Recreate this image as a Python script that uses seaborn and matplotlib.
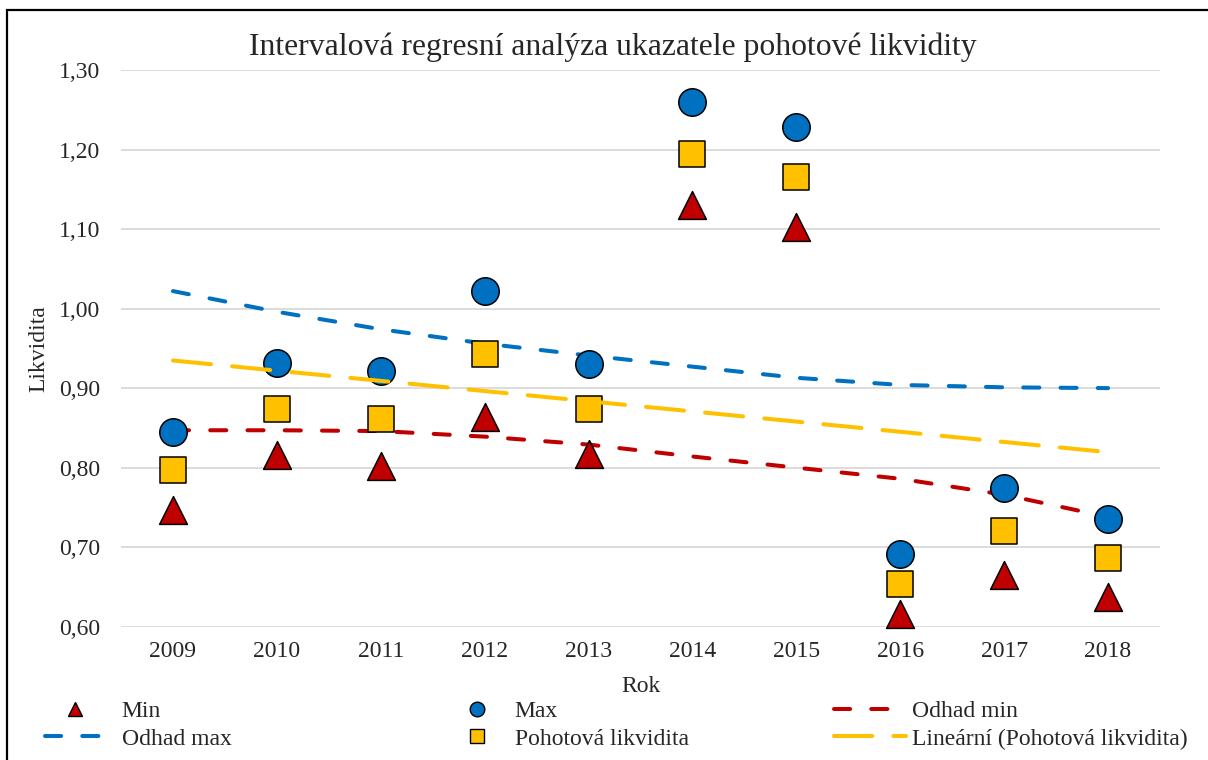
import numpy as np
import pandas as pd
import matplotlib
matplotlib.use("Agg")
import matplotlib.pyplot as plt
from matplotlib.lines import Line2D
from matplotlib.patches import Rectangle
import seaborn as sns

# ---- data ----
years = [2009, 2010, 2011, 2012, 2013, 2014, 2015, 2016, 2017, 2018]
year_labels = ["2009", "2010", "2011", "2012", "2013", "2014", "2015", "2016", "2017", "2018"]
min_vals = [0.747, 0.816, 0.802, 0.864, 0.817, 1.130, 1.103, 0.616, 0.665, 0.637]
max_vals = [0.845, 0.931, 0.921, 1.022, 0.930, 1.260, 1.228, 0.692, 0.774, 0.735]
pohot_vals = [0.797, 0.874, 0.861, 0.943, 0.874, 1.195, 1.166, 0.654, 0.720, 0.687]
odhad_min = [0.847, 0.847, 0.846, 0.839, 0.829, 0.814, 0.800, 0.786, 0.766, 0.738]
odhad_max = [1.022, 0.996, 0.974, 0.956, 0.941, 0.927, 0.913, 0.904, 0.901, 0.900]
y_ticks = [0.60, 0.70, 0.80, 0.90, 1.00, 1.10, 1.20, 1.30]
y_tick_labels = ["0,60", "0,70", "0,80", "0,90", "1,00", "1,10", "1,20", "1,30"]

title = "Intervalová regresní analýza ukazatele pohotové likvidity"
x_label = "Rok"
y_label = "Likvidita"
legend_labels = ["Min", "Max", "Odhad min", "Odhad max", "Pohotová likvidita",
                 "Lineární (Pohotová likvidita)"]

RED = "#C00000"
BLUE = "#0070C0"
YELLOW = "#FFC000"
GRID = "#D9D9D9"

sns.set_style("white")
plt.rcParams["font.family"] = ["Liberation Serif", "DejaVu Serif"]

W, H = 1208, 760
fig = plt.figure(figsize=(W / 100, H / 100), dpi=100)
ax = fig.add_axes([121 / W, 1 - 626.7 / H, (1160 - 121) / W, (626.7 - 70) / H])

LW = 2.9
short_dash = (0, (4.0, 5.25))
long_dash = (0, (9.5, 5.25))

df = pd.DataFrame({"year": years, "min": min_vals, "max": max_vals,
                   "pohot": pohot_vals, "omin": odhad_min, "omax": odhad_max})

sns.lineplot(data=df, x="year", y="omin", color=RED, lw=LW, linestyle=short_dash,
             dash_capstyle="round", ax=ax, zorder=2)
sns.lineplot(data=df, x="year", y="omax", color=BLUE, lw=LW, linestyle=short_dash,
             dash_capstyle="round", ax=ax, zorder=2)

S = 390
sns.scatterplot(data=df, x="year", y="min", marker="^", s=S + 10, color=RED,
                edgecolor="black", linewidth=1.1, ax=ax, zorder=3, clip_on=False, legend=False)
sns.scatterplot(data=df, x="year", y="max", marker="o", s=S, color=BLUE,
                edgecolor="black", linewidth=1.1, ax=ax, zorder=3, clip_on=False, legend=False)
sns.scatterplot(data=df, x="year", y="pohot", marker="s", s=S - 25, color=YELLOW,
                edgecolor="black", linewidth=1.1, ax=ax, zorder=3, clip_on=False, legend=False)

sns.regplot(data=df, x="year", y="pohot", scatter=False, ci=None, truncate=True,
            color=YELLOW, ax=ax,
            line_kws=dict(lw=LW, linestyle=long_dash, dash_capstyle="round", zorder=5))

ax.set_xlim(2008.5, 2018.5)
ax.set_ylim(0.60, 1.30)
ax.set_xticks(years)
ax.set_xticklabels(year_labels)
ax.set_yticks(y_ticks)
ax.set_yticklabels(y_tick_labels)
ax.tick_params(axis="both", length=0, labelsize=17)
ax.tick_params(axis="y", pad=15)
ax.tick_params(axis="x", pad=10)
for s in ax.spines.values():
    s.set_visible(False)
ax.grid(axis="y", color=GRID, lw=1.3, zorder=0)
ax.grid(axis="x", visible=False)
ax.set_axisbelow(True)

ax.set_xlabel(x_label, fontsize=17)
ax.set_ylabel(y_label, fontsize=17)
ax.xaxis.set_label_coords(0.5, -0.088)
ax.yaxis.set_label_coords(-0.069, 0.5)

fig.text(613 / W, 1 - 47 / H, title, ha="center", va="center", fontsize=22.8)

# border
fig.patches.append(Rectangle((7 / W, -0.2), 1.5, 1.2 - 10 / H, transform=fig.transFigure,
                             fill=False, edgecolor="black", lw=1.6))

# legend
h_min = Line2D([], [], ls="None", marker="^", ms=10.5, mfc=RED, mec="black", mew=1.0)
h_max = Line2D([], [], ls="None", marker="o", ms=10.5, mfc=BLUE, mec="black", mew=1.0)
h_pohot = Line2D([], [], ls="None", marker="s", ms=9.5, mfc=YELLOW, mec="black", mew=1.0)
h_omin = Line2D([], [], color=RED, lw=LW, ls=short_dash, dash_capstyle="round")
h_omax = Line2D([], [], color=BLUE, lw=LW, ls=short_dash, dash_capstyle="round")
h_lin = Line2D([], [], color=YELLOW, lw=LW, ls=long_dash, dash_capstyle="round")

cols = [
    ([h_min, h_omax], [legend_labels[0], legend_labels[3]], 45, 2.5, 0.75),
    ([h_max, h_pohot], [legend_labels[1], legend_labels[4]], 447, 2.5, 0.36),
    ([h_omin, h_lin], [legend_labels[2], legend_labels[5]], 834, 3.05, 0.25),
]
for hs, ls_, x0, hl, htp in cols:
    fig.legend(hs, ls_, loc="center left", bbox_to_anchor=(x0 / W, 1 - 725 / H),
               bbox_transform=fig.transFigure, frameon=False, fontsize=17,
               borderpad=0, borderaxespad=0, handlelength=hl, handletextpad=htp,
               labelspacing=0.27, numpoints=1)

fig.savefig("out.png", dpi=100)
